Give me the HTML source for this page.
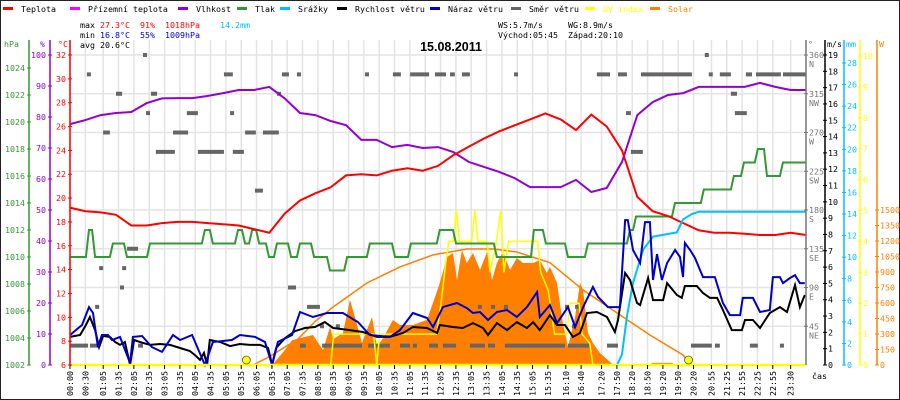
<!DOCTYPE html>
<html><head><meta charset="utf-8">
<style>
html,body{margin:0;padding:0;background:#fff;}
svg{display:block;font-family:"DejaVu Sans Mono","Liberation Mono",monospace;}
</style></head>
<body>
<svg id="chart" width="900" height="400" viewBox="0 0 900 400" xmlns="http://www.w3.org/2000/svg">
<rect x="0.5" y="0.5" width="899" height="399" fill="#fff" stroke="#222"/>
<g id="grid"></g>
<g id="marks"></g>
<g id="axes"></g>
<g id="legend" font-size="8.3"></g>
<g font-size="8.3">
<text x="80" y="28"><tspan fill="#000">max </tspan><tspan fill="#f00">27.3°C</tspan><tspan fill="#f00" x="140">91%</tspan><tspan fill="#f00" x="165">1018hPa</tspan><tspan fill="#00bfff" x="220">14.2mm</tspan></text>
<text x="80" y="38"><tspan fill="#000">min </tspan><tspan fill="#0000cd">16.8°C</tspan><tspan fill="#0000cd" x="140">55%</tspan><tspan fill="#0000cd" x="165">1009hPa</tspan></text>
<text x="80" y="48">avg 20.6°C</text>
<text x="498" y="28">WS:5.7m/s<tspan x="568">WG:8.9m/s</tspan></text>
<text x="498" y="38">Východ:05:45<tspan x="568">Západ:20:10</tspan></text>
</g>
<text x="451" y="51" text-anchor="middle" font-size="12.5" font-weight="bold" font-family="Liberation Sans, sans-serif">15.08.2011</text>
</svg>
<script>
// ---------- data ----------
const halfHours = [0,0.5,1,1.5,2,2.5,3,3.5,4,4.5,5,5.5,6,6.5,7,7.5,8,8.5,9,9.5,10,10.5,11,11.5,12,12.5,13,13.5,14,14.5,15,15.5,16,16.5,17,17.5,18,18.5,19,19.5,20,20.5,21,21.5,22,22.5,23,23.5,24];
const tempValues = [19.2,18.9,18.8,18.6,17.7,17.7,17.9,18.0,18.0,17.9,17.8,17.7,17.4,17.1,18.7,19.8,20.4,20.9,21.9,22.0,21.9,22.3,22.5,22.3,22.7,23.6,24.3,25.0,25.6,26.1,26.6,27.1,26.6,25.7,27.0,26.0,24.0,20.1,18.9,18.5,17.9,17.3,17.1,17.1,17.0,16.9,16.9,17.1,16.9];
const humValues = [77.7,79,80.6,81.3,81.6,84.5,86,86.1,86.1,86.8,87.7,88.7,88.7,89.7,86,81.3,80.6,78.7,77.4,72.6,72.6,70.3,71,70,70.3,68.7,65.5,63.9,62.3,60.3,57.4,57.4,57.4,59.7,55.8,57.1,65.5,80.6,84.8,87.1,87.7,89.7,89.7,89.7,89.7,91,89.7,88.7,88.7];
const pressTimes = [0,0.52,0.72,1.3,1.76,2.51,4.3,4.56,5.38,5.61,5.84,6.07,6.39,6.65,7.11,7.4,7.86,8.38,8.94,9.68,10.5,11.02,11.96,12.49,13.82,15.03,15.42,16.14,16.79,18.16,18.36,19.63,20.57,21.55,21.88,22.33,22.63,23.15];
const pressValues = [1010,1012,1010,1011,1010,1011,1012,1011,1012,1011,1012,1011,1010,1011,1010,1011,1010,1009,1010,1011,1010,1011,1012,1011,1010,1012,1011,1010,1011,1012,1013,1014,1015,1016,1017,1018,1016,1017];
const windTimes = [0,0.33,0.52,0.65,0.82,0.95,1.08,1.3,1.47,1.63,1.79,1.96,2.09,2.28,2.61,2.93,3.26,3.59,3.91,4.11,4.24,4.37,4.47,4.56,4.89,5.22,5.54,5.87,6.2,6.46,6.59,6.72,7.01,7.34,7.66,7.99,8.31,8.58,9.13,9.55,10.01,10.43,10.86,11.18,11.64,11.97,12.06,12.49,12.81,13.14,13.47,13.63,13.92,14.25,14.57,14.9,15.1,15.32,15.65,15.88,16.14,16.4,16.63,16.86,17.18,17.51,17.77,17.87,18.1,18.26,18.49,18.59,18.85,19.01,19.34,19.47,19.79,19.95,20.05,20.44,20.64,20.87,21.1,21.29,21.58,21.91,22.01,22.27,22.5,22.82,23.15,23.38,23.64,23.8,23.96];
const windValues = [1.72,1.84,2.45,2.94,2.14,1.1,1.78,1.72,1.41,1.23,1.41,0,1.53,1.41,1.23,1.29,1.23,1.04,0.86,0.55,0.31,0.74,0,1.53,1.41,1.16,1.29,1.23,1.23,1.04,0,1.04,1.65,2.08,2.27,2.33,2.63,2.27,2.14,2.02,1.72,1.72,1.96,2.33,2.27,1.96,2.45,2.33,2.27,2.57,2.27,1.84,2.57,2.14,2.63,2.27,2.63,2.14,3.06,2.45,2.45,1.72,1.96,3.19,3.25,2.94,2.02,2.76,5.64,5.21,3.8,3.68,5.33,3.98,3.98,5.02,4.29,4.11,4.84,4.84,4.41,4.11,4.11,3.37,2.14,2.14,2.76,2.76,2.27,3.19,3.55,3.25,4.9,3.55,4.29];
const gustTimes = [0,0.39,0.62,0.75,0.91,1.04,1.24,1.37,1.63,1.96,2.05,2.35,2.67,3.0,3.36,3.59,3.98,4.4,4.66,5.28,5.54,6.03,6.36,6.59,6.78,7.24,7.5,7.92,8.38,8.9,9.39,9.78,10.43,10.76,11.18,11.64,11.84,12.16,12.62,12.94,13.14,13.37,13.63,13.92,14.25,14.57,14.9,15.23,15.32,15.65,15.88,16.24,16.47,16.73,17.05,17.22,17.54,17.93,18.1,18.19,18.36,18.59,18.75,18.91,19.01,19.14,19.3,19.47,19.73,19.89,19.99,20.05,20.22,20.38,20.64,21.03,21.29,21.52,21.85,21.94,22.27,22.5,22.82,22.92,23.15,23.25,23.48,23.64,23.8,23.96];
const gustValues = [1.84,2.45,3.55,3.19,1.1,1.84,1.84,1.53,1.72,0.12,1.72,1.78,1.1,0.8,1.84,1.53,1.84,0,1.41,1.53,1.84,1.72,1.41,0,1.41,1.84,3.25,2.94,3.19,3.19,2.63,1.84,1.72,2.14,3.19,2.88,2.33,3.55,3.8,3.49,3.19,3.25,2.76,3.25,3.37,2.94,3.55,4.47,2.94,3.68,2.57,3.55,2.33,3.55,4.78,4.17,3.55,3.55,8.88,8.88,7.05,6.25,8.76,8.76,5.21,6.8,5.21,6.25,7.05,6.62,5.39,7.48,7.05,6.56,5.39,5.39,3.8,3.06,3.06,4.11,4.11,3.25,3.37,5.39,5.39,5.02,5.33,5.51,5.02,5.02];
const rainTimes = [0,17.84,18.0,18.16,18.36,18.69,19.01,19.79,19.99,20.28,20.5,24];
const rainValues = [0,0,1.0,4.5,7.6,10.7,11.9,12.3,13.5,14.0,14.2,14.2];
const solarTimes = [6.59,7.01,7.24,7.5,7.92,8.25,8.48,8.58,8.9,9.13,9.29,9.52,9.68,9.85,10.01,10.21,10.53,10.76,11.18,11.64,12.06,12.29,12.49,12.62,12.78,12.94,13.14,13.37,13.6,13.76,13.92,14.12,14.35,14.57,14.77,15.1,15.32,15.55,15.65,15.88,16.07,16.24,16.47,16.63,16.73,16.89,17.05,17.28,17.61,17.71,18.91,18.98,19.63,19.73];
const solarValues = [0,145,240,260,290,145,370,250,310,630,465,213,339,465,174,261,436,387,387,436,794,1045,1084,823,1113,987,1084,920,1094,823,987,1094,920,1036,987,987,1016,890,949,794,407,174,465,794,726,310,213,116,29,0,0,20,20,0];
const solarMaxTimes = [5.97,6.5,7.43,7.99,8.58,9.68,10.76,11.84,12.94,13.79,14.57,15.65,16.73,17.84,18.91,19.99,20.28];
const solarMaxValues = [0,80,250,420,561,794,949,1065,1123,1123,1094,990,726,503,290,97,0];
const uvTimes = [0,8.5,8.6,9.9,10.0,10.1,11.95,12.1,12.25,12.35,12.5,12.6,12.7,13.1,13.2,13.3,13.6,13.7,13.9,14.05,14.15,14.3,15.25,15.35,15.6,15.8,16.2,16.3,16.6,16.7,16.95,17.05,24];
const uvValues = [0,0,1,1,0,1,1,2,3.3,4,4,5,4,4,5,4,4,3,4,5,3,4,4,3,2.4,1,1,2,2,1,0.7,0,0];
const dirStart = [2.38,20.70,0.55,5.02,6.91,7.40,9.62,10.53,11.09,11.90,12.39,12.78,14.48,17.18,17.87,18.62,20.83,21.19,22.04,22.37,23.25,1.50,2.64,6.75,21.55,2.48,3.81,5.22,18.13,21.68,1.08,3.36,5.71,6.29,2.80,4.17,5.31,18.29,6.03,1.86,0.95,1.70,1.63,7.11,0.82,7.73,13.30,13.73,14.15,16.14,16.47,8.15,8.67,16.37,0,0.65,2.22,7.50,8.22,9.72,10.76,11.18,11.71,11.84,12.16,13.04,13.63,14.18,15.75,16.24,17.51,20.25,21.03,22.17,23.15];
const dirEnd = [2.51,20.83,0.68,5.31,7.14,7.53,9.75,10.79,11.71,12.26,12.55,13.04,14.61,17.61,18.16,20.28,20.96,21.55,22.24,23.18,24.0,1.70,2.84,6.88,21.75,2.61,4.17,5.35,18.29,22.07,1.30,3.85,6.06,6.81,3.42,5.02,5.67,18.68,6.29,2.22,1.08,1.83,1.76,7.37,0.95,8.15,13.43,13.86,14.28,16.30,16.63,8.28,8.80,16.50,0.59,0.95,2.38,7.69,9.52,10.43,11.09,11.28,11.80,12.00,12.59,13.53,13.86,15.75,16.14,16.95,17.87,20.93,21.19,22.43,23.25];
const dirDeg = [360,360,337.5,337.5,337.5,337.5,337.5,337.5,337.5,337.5,337.5,337.5,337.5,337.5,337.5,337.5,337.5,337.5,337.5,337.5,337.5,315,315,315,315,292.5,292.5,292.5,292.5,292.5,270,270,270,270,247.5,247.5,247.5,247.5,202.5,135,112.5,112.5,90,90,67.5,67.5,67.5,67.5,67.5,67.5,67.5,45,45,45,22.5,22.5,22.5,22.5,22.5,22.5,22.5,22.5,22.5,22.5,22.5,22.5,22.5,22.5,22.5,22.5,22.5,22.5,22.5,22.5,22.5];
const sunEvents = [5.75,20.17];
const timeLabels = ["00:00","00:30","01:05","01:35","02:05","02:35","03:05","03:35","04:05","04:35","05:05","05:35","06:05","06:35","07:05","07:35","08:05","08:35","09:05","09:35","10:05","10:35","11:05","11:35","12:05","12:35","13:05","13:35","14:05","14:35","15:05","15:35","16:10","16:40","17:20","17:50","18:20","18:50","19:20","19:50","20:20","20:55","21:25","21:55","22:25","22:55","23:30"];
const hpaTicks = [1002,1004,1006,1008,1010,1012,1014,1016,1018,1020,1022,1024];
const pctTicks = [0,10,20,30,40,50,60,70,80,90,100];
const tempTicks = [6,8,10,12,14,16,18,20,22,24,26,28,30,32];
const dirTicks = [45,90,135,180,225,270,315,360];
const dirNames = ["NE","E","SE","S","SW","W","NW","N"];
const msTicks = [0,1,2,3,4,5,6,7,8,9,10,11,12,13,14,15,16,17,18,19];
const mmTicks = [0,2,4,6,8,10,12,14,16,18,20,22,24,26,28];
const uvTicks = [0,1,2,3,4,5,6,7,8,9,10];
const wTicks = [0,150,300,450,600,750,900,1050,1200,1350,1500];

// ---------- scales ----------
const X0=70, X1=806, Y0=365;
const xT = h => X0 + h*(X1-X0)/24;
const yC = t => Y0 - (t-6)*310/26;
const yP = p => Y0 - p*3.1;
const yH = v => Y0 - (v-1002)*297/22;
const yV = v => Y0 - v*310/19;
const yMM = v => Y0 - v*302/28;
const yUV = v => Y0 - v*30.9;
const yW = v => Y0 - v*155/1500;
const yD = v => Y0 - v*310/360;
const NS="http://www.w3.org/2000/svg";
function mk(tag, parent, attrs){const e=document.createElementNS(NS,tag);for(const k in attrs)e.setAttribute(k,attrs[k]);parent.appendChild(e);return e;}
const grid=document.getElementById('grid'), marks=document.getElementById('marks'), axes=document.getElementById('axes'), legend=document.getElementById('legend');
function pts(ts,vs,fy){return ts.map((t,i)=>xT(t).toFixed(1)+','+fy(vs[i]).toFixed(1)).join(' ');}

// grid
dirTicks.forEach(d=>{const l=mk('line',grid,{x1:X0,x2:X1,y1:yD(d),y2:yD(d),stroke:'#e4e4e4','stroke-width':1.5});

});
timeLabels.forEach(s=>{const h=+s.slice(0,2)+(+s.slice(3))/60;const x=xT(h);
const l=mk('line',grid,{x1:x,x2:x,y1:40,y2:Y0,stroke:'#e4e4e4','stroke-width':1.5});


const tk=mk('line',axes,{x1:x,x2:x,y1:Y0,y2:Y0+4,stroke:'#000'});


const t=mk('text',axes,{x:0,y:0,transform:`translate(${x+3},396) rotate(-90)`,'font-size':8.3});
t.textContent=s;

});

// solar fill
{const d=[[xT(solarTimes[0]),Y0]].concat(solarTimes.map((t,i)=>[xT(t),yW(solarValues[i])])).concat([[xT(solarTimes[solarTimes.length-1]),Y0]]);
const p=mk('polygon',marks,{points:d.map(a=>a.join(',')).join(' '),fill:'#ff8000'});

}
{const p=mk('polyline',marks,{points:pts(solarMaxTimes,solarMaxValues,yW),fill:'none',stroke:'#ff8000','stroke-width':1.5});

}
// direction
dirDeg.forEach((d,i)=>{const x1=xT(dirStart[i]),x2=Math.max(xT(dirEnd[i]),x1+4);
const r=mk('rect',marks,{x:x1,y:yD(d)-2,width:x2-x1,height:4,fill:'#666'});

});
// uv
{const p=mk('polyline',marks,{points:pts(uvTimes,uvValues,yUV),fill:'none',stroke:'#ffff00','stroke-width':1.5});

}
// pressure steps
{let s=[];pressTimes.forEach((t,i)=>{if(i>0)s.push(xT(t)+','+yH(pressValues[i-1]));s.push((xT(t)+(i>0?3:0))+','+yH(pressValues[i]));});s.push(X1+','+yH(pressValues[pressValues.length-1]));
const p=mk('polyline',marks,{points:s.join(' '),fill:'none',stroke:'#339933','stroke-width':2});

}
// humidity
{const p=mk('polyline',marks,{points:pts(halfHours,humValues,yP),fill:'none',stroke:'#9400d3','stroke-width':2});

}
// temperature
{const p=mk('polyline',marks,{points:pts(halfHours,tempValues,yC),fill:'none',stroke:'#ff0000','stroke-width':2});

}
// rain
{const p=mk('polyline',marks,{points:pts(rainTimes,rainValues,yMM),fill:'none',stroke:'#00bfff','stroke-width':2});

}
// wind
{const p=mk('polyline',marks,{points:pts(windTimes,windValues,yV),fill:'none',stroke:'#000','stroke-width':2});

}
{const p=mk('polyline',marks,{points:pts(gustTimes,gustValues,yV),fill:'none',stroke:'#0000cd','stroke-width':2});

}
// bottom yellow baseline
{const l=mk('line',marks,{x1:X0,x2:X1,y1:Y0,y2:Y0,stroke:'#ffff00','stroke-width':2.5});

}
sunEvents.forEach(h=>{const c=mk('circle',marks,{cx:xT(h),cy:Y0-5,r:4,fill:'#ffff00',stroke:'#555','stroke-width':0.8});

});

// axes
function vaxis(x,color,ticks,fy,labels,side,name,ytop){
 const l=mk('line',axes,{x1:x,x2:x,y1:ytop,y2:Y0,stroke:color,'stroke-width':1.5});
 
 
 ticks.forEach((v,i)=>{const y=fy(v);
  const tk=mk('line',axes,{x1:x-2,x2:x+2,y1:y,y2:y,stroke:color});
  
  
  const t=mk('text',axes,{x:side<0?x-4:x+3,y:y+3,'text-anchor':side<0?'end':'start',fill:color,'font-size':8.3});
  t.textContent=labels?labels[i]:v;
  
  });
}
vaxis(29,'#339933',hpaTicks,yH,null,-1,'pressure',40);
vaxis(50,'#9400d3',pctTicks,yP,null,-1,'humidity',40);
vaxis(70,'#ff0000',tempTicks,yC,null,-1,'temperature',40);
vaxis(806,'#777',dirTicks,yD,null,1,'direction',40);
dirTicks.forEach((d,i)=>{const t=mk('text',axes,{x:809,y:yD(d)+12,fill:'#777','font-size':8.3});t.textContent=dirNames[i];

});
vaxis(825,'#000',msTicks,yV,null,1,'wind-speed',40);
vaxis(844,'#00bfff',mmTicks,yMM,null,1,'rain',40);
vaxis(860,'#ffff00',uvTicks,yUV,null,1,'uv',40);
vaxis(877,'#ff8000',wTicks,yW,null,1,'solar',40);
[["hPa",4,'#339933'],["%",40,'#9400d3'],["°C",58,'#ff0000'],["°",808,'#777'],["m/s",827,'#000'],["mm",846,'#00bfff'],["W",879,'#ff8000'],["čas",812,'#000']].forEach((a,i)=>{
 const t=mk('text',axes,{x:a[1],y:i===7?379:47,fill:a[2],'font-size':8.3});t.textContent=a[0];
 
 });

// legend
const legNames=["Teplota","Přízemní teplota","Vlhkost","Tlak","Srážky","Rychlost větru","Náraz větru","Směr větru","UV index","Solar"];
const legColors=['#ff0000','#ff00ff','#9400d3','#339933','#00bfff','#000','#0000cd','#666','#ffff00','#ff8000'];
const legX=[3,70,178,237,280,337,430,511,585,650];
legNames.forEach((n,i)=>{
 const g=mk('g',legend,{});
 
 
 mk('rect',g,{x:legX[i],y:7,width:10,height:3,fill:legColors[i]});
 const t=mk('text',g,{x:legX[i]+18,y:12,fill:i===8?'#ffff00':(i===9?'#ff8000':'#000')});t.textContent=n;
 
 });
</script>
</body></html>
